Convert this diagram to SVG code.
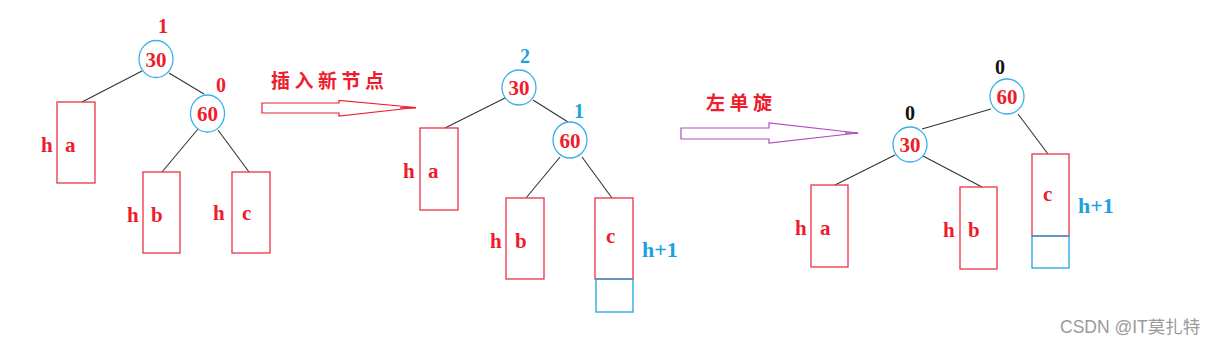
<svg xmlns="http://www.w3.org/2000/svg" width="1220" height="347" viewBox="0 0 1220 347">
<style>
.bg{fill:#fff}
.circ{fill:#fff;stroke:#3ab0ea;stroke-width:1.3}
.box{fill:none;stroke:#ea3344;stroke-width:1.3}
.ext{fill:none;stroke:#20a4e4;stroke-width:1.3}
.edge{stroke:#333;stroke-width:1.1;fill:none}
.num{font-family:"Liberation Serif",serif;font-weight:bold;font-size:21px;fill:#ee1c2c;text-anchor:middle}
.lbl{font-family:"Liberation Serif",serif;font-weight:bold;font-size:21px;fill:#ee1c2c}
.bf{font-family:"Liberation Serif",serif;font-weight:bold;font-size:20px;text-anchor:middle}
.red{fill:#ee1c2c}
.blue{fill:#1ba1e2}
.blk{fill:#111}
.hp{font-family:"Liberation Serif",serif;font-weight:bold;font-size:22px;fill:#1ba1e2}
.cn{font-family:"Noto Sans CJK SC",sans-serif;font-weight:bold;font-size:19px;fill:#ee1c2c;letter-spacing:4.5px}
</style>
<rect class="bg" x="0" y="0" width="1220" height="347"/>

<g id="connectors">
  <line class="edge" x1="142" y1="71" x2="82" y2="102"/>
  <line class="edge" x1="169" y1="73" x2="204" y2="94"/>
  <line class="edge" x1="198" y1="129" x2="162" y2="172"/>
  <line class="edge" x1="218" y1="130" x2="249" y2="172"/>

  <line class="edge" x1="505" y1="98" x2="445" y2="128"/>
  <line class="edge" x1="533" y1="100" x2="568" y2="122"/>
  <line class="edge" x1="560" y1="157" x2="526" y2="198"/>
  <line class="edge" x1="582" y1="157" x2="612" y2="198"/>

  <line class="edge" x1="991" y1="109" x2="922" y2="129"/>
  <line class="edge" x1="1018" y1="114" x2="1048" y2="154"/>
  <line class="edge" x1="895" y1="155" x2="835" y2="185"/>
  <line class="edge" x1="923" y1="156" x2="982" y2="187"/>
</g>

<!-- Tree 1 -->
<g id="t1-n30">
  <ellipse class="circ" cx="156" cy="59" rx="17" ry="18.5"/>
  <text class="num" x="156" y="67">30</text>
  <text class="bf red" x="163" y="33">1</text>
</g>
<g id="t1-n60">
  <ellipse class="circ" cx="207.5" cy="113.5" rx="17" ry="18.5"/>
  <text class="num" x="207.5" y="121">60</text>
  <text class="bf red" x="221" y="92">0</text>
</g>
<g id="t1-a">
  <rect class="box" x="57" y="102" width="38" height="81"/>
  <text class="lbl" x="41" y="152">h</text>
  <text class="lbl" x="65" y="152">a</text>
</g>
<g id="t1-b">
  <rect class="box" x="143" y="172" width="37" height="81"/>
  <text class="lbl" x="127" y="222">h</text>
  <text class="lbl" x="151" y="222">b</text>
</g>
<g id="t1-c">
  <rect class="box" x="232" y="172" width="38" height="81"/>
  <text class="lbl" x="213" y="220">h</text>
  <text class="lbl" x="242" y="220">c</text>
</g>

<!-- Arrow 1 -->
<g id="arrow-insert">
  <polygon points="262,103 339,103 339,100.5 416,107.5 339,116 339,113 262,113" fill="#fff" stroke="#ee2030" stroke-width="1.2"/>
  <line x1="400" y1="107.8" x2="416" y2="107.8" stroke="#ee2030" stroke-width="1.5"/>
  <text class="cn" x="271" y="88">插入新节点</text>
</g>

<!-- Tree 2 -->
<g id="t2-n30">
  <ellipse class="circ" cx="519" cy="87.5" rx="17" ry="17.5"/>
  <text class="num" x="519" y="95">30</text>
  <text class="bf blue" x="525" y="63">2</text>
</g>
<g id="t2-n60">
  <ellipse class="circ" cx="570" cy="140" rx="17" ry="18"/>
  <text class="num" x="570" y="148">60</text>
  <text class="bf blue" x="579" y="118">1</text>
</g>
<g id="t2-a">
  <rect class="box" x="420" y="128" width="38" height="82"/>
  <text class="lbl" x="403" y="178">h</text>
  <text class="lbl" x="428" y="178">a</text>
</g>
<g id="t2-b">
  <rect class="box" x="506" y="198" width="38" height="81"/>
  <text class="lbl" x="490" y="248">h</text>
  <text class="lbl" x="515" y="248">b</text>
</g>
<g id="t2-c">
  <rect class="box" x="595" y="198" width="38" height="81"/>
  <rect class="ext" x="596" y="279" width="37" height="33"/>
  <text class="lbl" x="606" y="243">c</text>
  <text class="hp" x="642" y="257">h+1</text>
</g>

<!-- Arrow 2 -->
<g id="arrow-rotate">
  <polygon points="681,128 769,128 769,123 858,133 769,143 769,139 681,139" fill="#fff" stroke="#b04dc0" stroke-width="1.2"/>
  <line x1="845" y1="133" x2="858" y2="133" stroke="#b04dc0" stroke-width="1.5"/>
  <text class="cn" x="706" y="110">左单旋</text>
</g>

<!-- Tree 3 -->
<g id="t3-n60">
  <ellipse class="circ" cx="1007" cy="96.5" rx="17" ry="17.5"/>
  <text class="num" x="1007" y="104">60</text>
  <text class="bf blk" x="1000" y="74">0</text>
</g>
<g id="t3-n30">
  <ellipse class="circ" cx="910" cy="144.5" rx="17" ry="17.5"/>
  <text class="num" x="910" y="152">30</text>
  <text class="bf blk" x="910" y="120">0</text>
</g>
<g id="t3-a">
  <rect class="box" x="811" y="185" width="37" height="82"/>
  <text class="lbl" x="795" y="235">h</text>
  <text class="lbl" x="820" y="235">a</text>
</g>
<g id="t3-b">
  <rect class="box" x="960" y="187" width="37" height="82"/>
  <text class="lbl" x="943" y="237">h</text>
  <text class="lbl" x="968" y="237">b</text>
</g>
<g id="t3-c">
  <rect class="box" x="1032" y="154" width="37" height="82"/>
  <rect class="ext" x="1032" y="236" width="37" height="32"/>
  <text class="lbl" x="1043" y="201">c</text>
  <text class="hp" x="1078" y="213">h+1</text>
</g>

<text x="1060" y="333" font-family="'Liberation Sans','Noto Sans CJK SC',sans-serif" font-size="17.5" fill="#9a9a9a">CSDN @IT莫扎特</text>
</svg>
